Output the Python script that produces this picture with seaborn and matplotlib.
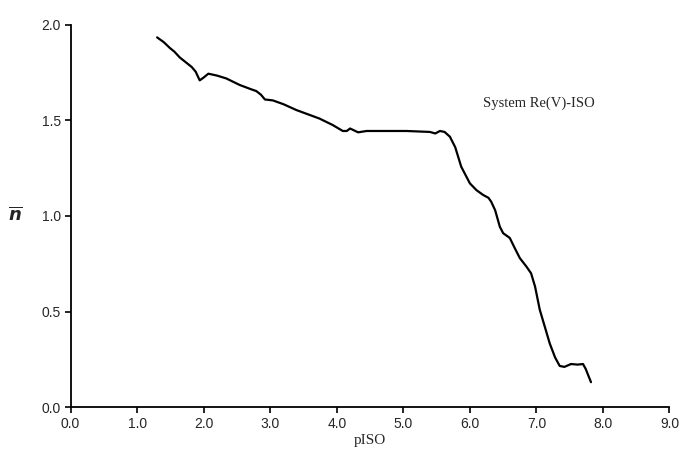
import pandas as pd
import matplotlib.pyplot as plt
import seaborn as sns

# values
p_iso = [1.30, 1.40, 1.49, 1.56, 1.64, 1.73, 1.82, 1.88, 1.94, 2.00, 2.07,
         2.20, 2.34, 2.54, 2.70, 2.79, 2.86, 2.92, 3.04, 3.20, 3.39, 3.74,
         3.94, 4.09, 4.15, 4.20, 4.26, 4.32, 4.45, 5.05, 5.40, 5.48, 5.55,
         5.62, 5.70, 5.78, 5.87, 6.00, 6.10, 6.20, 6.28, 6.32, 6.38, 6.45,
         6.50, 6.60, 6.67, 6.75, 6.85, 6.92, 6.98, 7.05, 7.20, 7.28, 7.35,
         7.42, 7.52, 7.62, 7.70, 7.74, 7.82]
n_bar = [1.935, 1.91, 1.88, 1.86, 1.83, 1.805, 1.78, 1.755, 1.71, 1.725, 1.745,
         1.735, 1.72, 1.686, 1.665, 1.654, 1.635, 1.61, 1.605, 1.585, 1.555, 1.51,
         1.476, 1.445, 1.445, 1.458, 1.448, 1.438, 1.445, 1.445, 1.44, 1.432, 1.445,
         1.44, 1.415, 1.36, 1.258, 1.171, 1.135, 1.11, 1.095, 1.075, 1.03, 0.944,
         0.91, 0.885, 0.835, 0.78, 0.735, 0.70, 0.63, 0.51, 0.333, 0.26, 0.215,
         0.21, 0.225, 0.222, 0.225, 0.20, 0.13]
x_ticks = [0.0, 1.0, 2.0, 3.0, 4.0, 5.0, 6.0, 7.0, 8.0, 9.0]
y_ticks = [0.0, 0.5, 1.0, 1.5, 2.0]

df = pd.DataFrame({'pISO': p_iso, 'n': n_bar})

sns.set_style("ticks")
plt.rcParams['font.family'] = ['Liberation Sans Narrow', 'Liberation Sans', 'DejaVu Sans']

fig = plt.figure(figsize=(6.79, 4.54), dpi=100)
ax = fig.add_axes([0.104, 0.1035, 0.882, 0.8415])

sns.lineplot(data=df, x='pISO', y='n', color='black', linewidth=1.6, ax=ax)

ax.set_xlim(0, 9)
ax.set_ylim(0, 2)
ax.set_xticks(x_ticks)
ax.set_yticks(y_ticks)
ax.set_xticklabels([f'{t:.1f}' for t in x_ticks], fontsize=10)
ax.set_yticklabels([f'{t:.1f}' for t in y_ticks], fontsize=10)
ax.tick_params(direction='out', length=4, width=1.2, color='black', pad=3)
sns.despine(ax=ax)
for s in ['left', 'bottom']:
    ax.spines[s].set_linewidth(1.3)
    ax.spines[s].set_color('black')

ax.set_xlabel('pISO', family='Liberation Serif', fontsize=11, labelpad=2)
ax.set_ylabel('')
fig.text(0.022, 0.526, r'$\overline{\boldsymbol{n}}$', fontsize=13, ha='center', va='center')

ax.text(6.19, 1.59, 'System Re(V)-ISO', family='Liberation Serif', fontsize=10.5,
        ha='left', va='center')

plt.savefig('out.png', dpi=100)
